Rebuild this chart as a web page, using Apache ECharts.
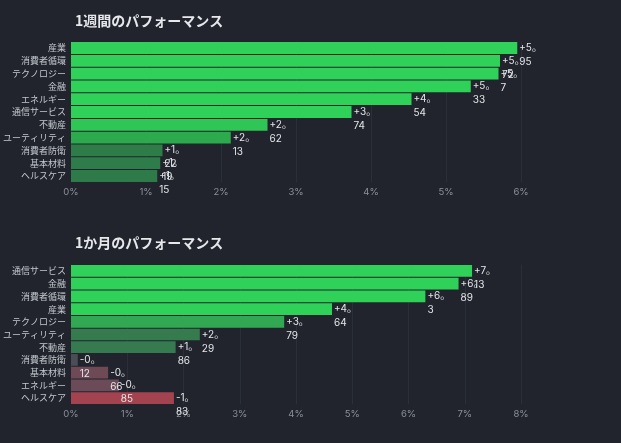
<!DOCTYPE html>
<html><head><meta charset="utf-8">
<script src="https://cdn.jsdelivr.net/npm/echarts@6/dist/echarts.min.js"></script>
<style>html,body{margin:0;padding:0;background:#21242c;}#c{width:621px;height:443px;}</style>
</head><body><div id="c"></div>
<script>
const title1 = '1週間のパフォーマンス';
const title2 = '1か月のパフォーマンス';
const cats1 = ['産業','消費者循環','テクノロジー','金融','エネルギー','通信サービス','不動産','ユーティリティ','消費者防衛','基本材料','ヘルスケア'];
const vals1 = [5.95, 5.72, 5.7, 5.33, 4.54, 3.74, 2.62, 2.13, 1.22, 1.19, 1.15];
const cats2 = ['通信サービス','金融','消費者循環','産業','テクノロジー','ユーティリティ','不動産','消費者防衛','基本材料','エネルギー','ヘルスケア'];
const vals2 = [7.13, 6.89, 6.3, 4.64, 3.79, 2.29, 1.86, -0.12, -0.66, -0.85, -1.83];
const axisMax1 = 6;
const axisMax2 = 8;

// style arrays (colours per bar, top to bottom)
const colors1 = ['#30d158','#30d158','#30d158','#30d158','#30d158','#30d158','#2fc655','#2eaa4e','#2e7d49','#2e7c49','#2e7a48'];
const colors2 = ['#30d158','#30d158','#30d158','#30d158','#33a853','#357b4e','#367a4f','#4a4e57','#6d4a56','#6b4b57','#a3434f'];

const FONT = "Inter, 'Noto Sans CJK JP', sans-serif";
const chart = echarts.init(document.getElementById('c'));

function firstLine(v){
  const s = Math.abs(v).toString().split('.');
  return (v < 0 ? '-' : '+') + s[0] + '。';
}
function secondLine(v){
  const s = Math.abs(v).toString().split('.');
  return s[1] || '';
}

function makeSeries(idx, vals, colors){
  return [
    {
      type:'bar', xAxisIndex:idx, yAxisIndex:idx,
      barCategoryGap:'8%',
      data: vals.map((v,i)=>({value:Math.abs(v), itemStyle:{color:colors[i]}})),
      label:{show:true, position:'right', distance:2, color:'#e4e6ea', fontSize:10, fontFamily:FONT,
        formatter:p=>firstLine(vals[p.dataIndex])},
      z:2
    },
    {
      type:'bar', xAxisIndex:idx, yAxisIndex:idx,
      barCategoryGap:'8%', barGap:'-100%', silent:true,
      data: vals.map(v=>Math.abs(v)),
      itemStyle:{color:'rgba(0,0,0,0)'},
      label:{show:true, position:'right', distance:2, offset:[0,14], color:'#e4e6ea', fontSize:10, fontFamily:FONT,
        formatter:p=>secondLine(vals[p.dataIndex])},
      z:3
    }
  ];
}

function xAxis(idx, max){
  return {gridIndex:idx, type:'value', min:0, max:max, interval:1,
    axisLine:{show:false}, axisTick:{show:false},
    axisLabel:{formatter:'{value}%', color:'#8b909a', fontSize:9.5, margin:5, fontFamily:FONT},
    splitLine:{show:true, lineStyle:{color:'#2b2f38', width:1}}};
}
function yAxis(idx, cats){
  return {gridIndex:idx, type:'category', data:cats, inverse:true,
    axisLine:{show:false}, axisTick:{show:false},
    axisLabel:{color:'#c3c7ce', fontSize:9, margin:5, fontFamily:"'Noto Sans CJK JP', sans-serif"}};
}

chart.setOption({
  backgroundColor:'#21242c',
  animation:false,
  title:[
    {text:title1, left:70, top:9, textStyle:{color:'#e6e8ec', fontSize:14, fontWeight:'bold', fontFamily:"'Noto Sans CJK JP', sans-serif"}},
    {text:title2, left:70, top:231, textStyle:{color:'#e6e8ec', fontSize:14, fontWeight:'bold', fontFamily:"'Noto Sans CJK JP', sans-serif"}}
  ],
  grid:[
    {left:71, width:450, top:41.6, height:140.8, outerBoundsMode:'none', containLabel:false},
    {left:71, width:450, top:264.6, height:139.8, outerBoundsMode:'none', containLabel:false}
  ],
  xAxis:[xAxis(0, axisMax1), xAxis(1, axisMax2)],
  yAxis:[yAxis(0, cats1), yAxis(1, cats2)],
  series:[...makeSeries(0, vals1, colors1), ...makeSeries(1, vals2, colors2)]
});
</script></body></html>
